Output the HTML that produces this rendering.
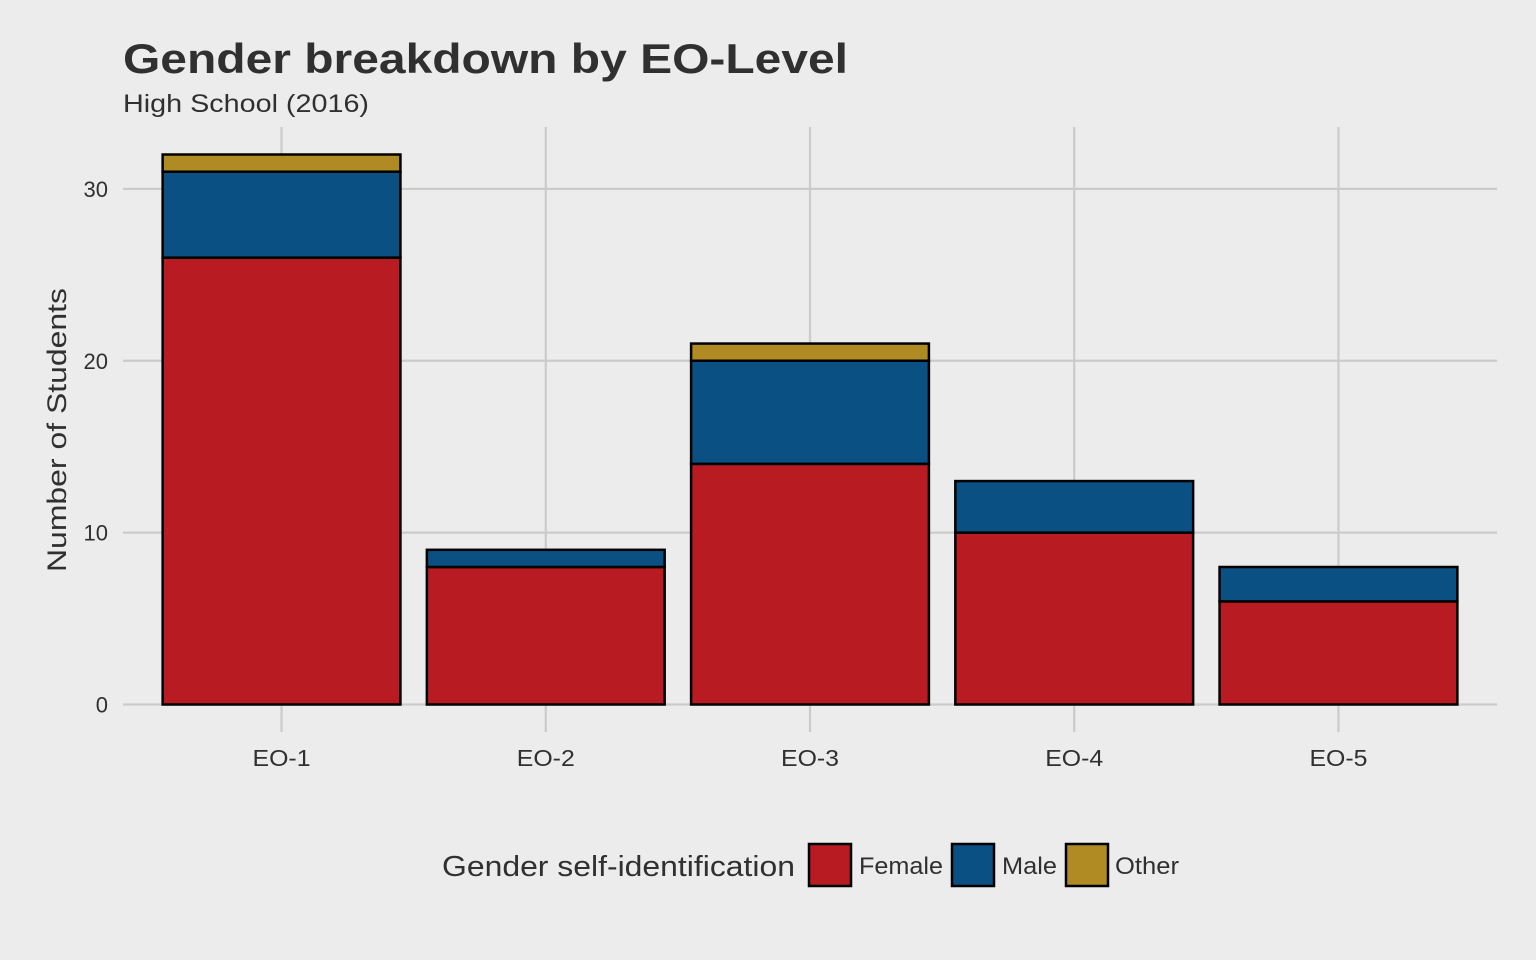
<!DOCTYPE html>
<html><head><meta charset="utf-8"><style>
html,body{margin:0;padding:0;background:#ececec;}
svg{display:block;font-family:"Liberation Sans",Arial,sans-serif;}
</style></head><body>
<svg id="chart" width="1536" height="960" viewBox="0 0 1536 960">
<rect x="0" y="0" width="1536" height="960" fill="#ececec"/>
<text x="123" y="73" font-size="42" font-weight="bold" fill="#303030" textLength="725" lengthAdjust="spacingAndGlyphs">Gender breakdown by EO-Level</text>
<text x="123" y="112" font-size="25" fill="#303030" textLength="246" lengthAdjust="spacingAndGlyphs">High School (2016)</text>
<text transform="translate(66,430) rotate(-90)" text-anchor="middle" font-size="27" fill="#303030" textLength="284" lengthAdjust="spacingAndGlyphs">Number of Students</text>
<g id="grid"></g>
<g id="bars"></g>
<g id="xlabels"></g>
<g id="ylabels"></g>
<g>
<text x="442" y="876" font-size="29" fill="#303030" textLength="353" lengthAdjust="spacingAndGlyphs">Gender self-identification</text>
<rect x="809" y="844" width="42" height="42" fill="#b81b21" stroke="#000" stroke-width="2.5"/>
<text x="859" y="874" font-size="24" fill="#303030" textLength="84" lengthAdjust="spacingAndGlyphs">Female</text>
<rect x="952" y="844" width="42" height="42" fill="#0b5082" stroke="#000" stroke-width="2.5"/>
<text x="1002" y="874" font-size="24" fill="#303030" textLength="55" lengthAdjust="spacingAndGlyphs">Male</text>
<rect x="1066" y="844" width="42" height="42" fill="#b08a23" stroke="#000" stroke-width="2.5"/>
<text x="1115" y="874" font-size="24" fill="#303030" textLength="64" lengthAdjust="spacingAndGlyphs">Other</text>
</g>
</svg>
<script>
const categories = ["EO-1","EO-2","EO-3","EO-4","EO-5"];
const female = [26,8,14,10,6];
const male = [5,1,6,3,2];
const other = [1,0,1,0,0];
const yTicks = [0,10,20,30];

const NS="http://www.w3.org/2000/svg";
const x0=123,x1=1497,yTop=127,yBot=732;
const maxTotal=Math.max(...categories.map((c,i)=>female[i]+male[i]+other[i]));
const unit=(yBot-yTop)/(maxTotal*1.1);
const y=v=>yBot-maxTotal*0.05*unit-v*unit;
const step=(x1-x0)/(categories.length-1+1.2);
const xc=i=>x0+step*(i+0.6);
const bw=step*0.9;
function mk(tag,attrs,parent){const e=document.createElementNS(NS,tag);for(const k in attrs)e.setAttribute(k,attrs[k]);parent.appendChild(e);return e;}
const grid=document.getElementById('grid'),bars=document.getElementById('bars'),xl=document.getElementById('xlabels'),yl=document.getElementById('ylabels');
yTicks.forEach(t=>{
  const l=mk('line',{x1:x0,x2:x1,y1:y(t),y2:y(t),stroke:'#cbcbcb','stroke-width':2.2},grid);
  
  
  const tx=mk('text',{x:108,y:y(t)+8,'text-anchor':'end','font-size':22,fill:'#303030'},yl);
  tx.textContent=t;
  
  
});
categories.forEach((c,i)=>{
  const l=mk('line',{x1:xc(i),x2:xc(i),y1:yTop,y2:yBot,stroke:'#cbcbcb','stroke-width':2.2},grid);
  
  
  const tx=mk('text',{x:xc(i),y:766,'text-anchor':'middle','font-size':23,fill:'#303030',textLength:58,lengthAdjust:'spacingAndGlyphs'},xl);
  tx.textContent=c;
  
  
});
const series=[["female",female,"#b81b21"],["male",male,"#0b5082"],["other",other,"#b08a23"]];
categories.forEach((c,i)=>{
  let base=0;
  series.forEach(([nm,arr,col])=>{
    const v=arr[i];
    if(v>0){
      const r=mk('rect',{x:xc(i)-bw/2,y:y(base+v),width:bw,height:y(base)-y(base+v),fill:col,stroke:'#000','stroke-width':2.5},bars);
      
      
    }
    base+=v;
  });
});
</script>
</body></html>
